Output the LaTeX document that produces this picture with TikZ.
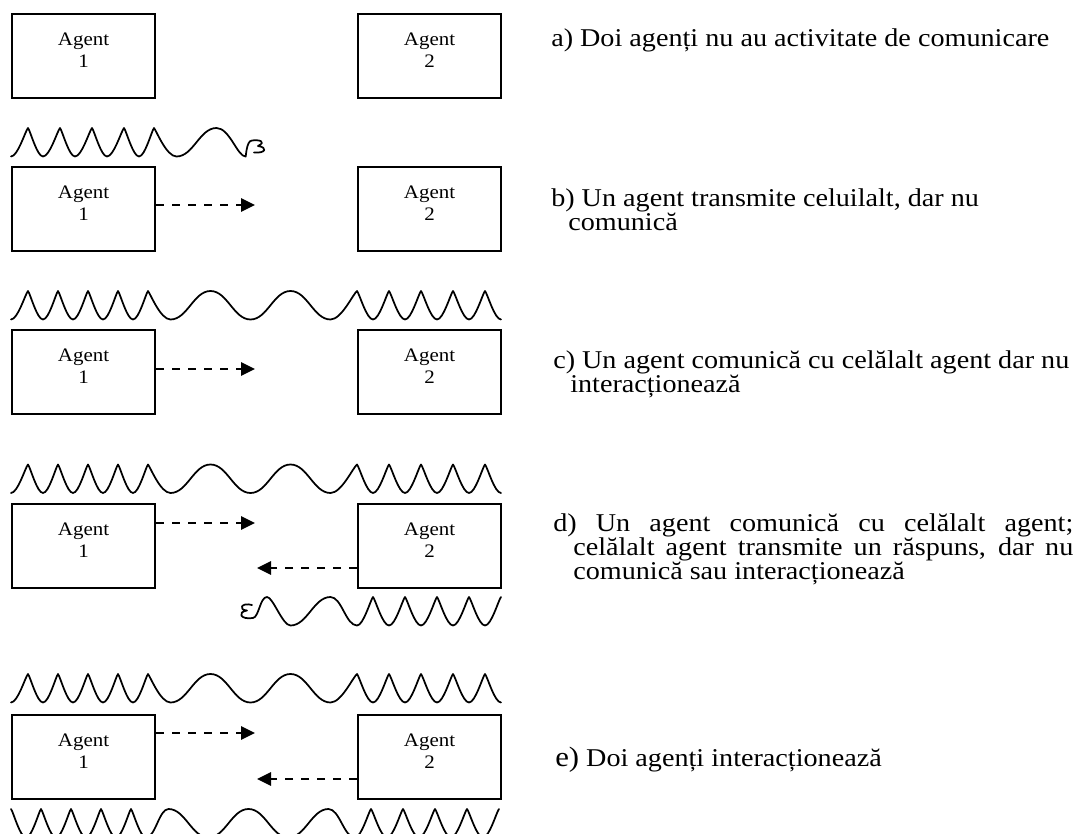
\documentclass[tikz,border=0pt]{standalone}
\usepackage{fontspec}
\setmainfont{Liberation Serif}[FakeStretch=1.1]
\usetikzlibrary{arrows.meta}
\tikzset{
  agentbox/.style={draw, line width=1.3pt, minimum width=107.5pt, minimum height=63pt, anchor=north west, inner sep=0pt},
  boxtext/.style={align=center, font=\fontsize{14.3}{16.5}\selectfont, inner sep=0pt},
  wave/.style={line width=1.3pt, line join=round, line cap=round},
  msg/.style={line width=1.2pt, dash pattern=on 6.3pt off 5.7pt, -{Triangle[length=10.5pt,width=10pt]}},
  desc/.style={anchor=base west, inner sep=0pt, font=\fontsize{19.2}{18}\selectfont}
}
% wave pieces (image pixels, y downward, wave height 28.5)
\newcommand\wvNup[1]{.. controls +(0.4*#1,0) and +(-0.16*#1,3) .. ++(#1,-28.5)}
\newcommand\wvNdn[1]{.. controls +(0.16*#1,3) and +(-0.4*#1,0) .. ++(#1,28.5)}
\newcommand\wvWup[1]{.. controls +(0.42*#1,0) and +(-0.42*#1,0) .. ++(#1,-28.5)}
\newcommand\wvWdn[1]{.. controls +(0.42*#1,0) and +(-0.42*#1,0) .. ++(#1,28.5)}
\begin{document}
\begin{tikzpicture}[x=0.75pt,y=-0.75pt]
\path[use as bounding box] (0,0) rectangle (1085,834);
\clip (0,0) rectangle (1085,834);

% ---------- boxes ----------
\foreach \r/\y in {a/13,b/166,c/329,d/503,e/714}{
  \node[agentbox] (\r1) at (11,\y) {};
  \node[boxtext] (\r1t) at ([yshift=4.5pt]\r1.center) {Agent\\1};
  \node[agentbox] (\r2) at (357,\y) {};
  \node[boxtext] (\r2t) at ([yshift=4.5pt]\r2.center) {Agent\\2};
}

% ---------- arrows ----------
\coordinate (bt) at (255,205);
\coordinate (ct) at (255,369);
\coordinate (dt) at (255,523);
\coordinate (db) at (257,568);
\coordinate (et) at (255,733);
\coordinate (eb) at (257,779);
\draw[msg] (b1.east |- bt) -- (bt);
\draw[msg] (c1.east |- ct) -- (ct);
\draw[msg] (d1.east |- dt) -- (dt);
\draw[msg] (d2.west |- db) -- (db);
\draw[msg] (e1.east |- et) -- (et);
\draw[msg] (e2.west |- eb) -- (eb);

% ---------- wave b (with curl) ----------
\draw[wave, shift={(0,130.5)}] (11,26)
  \foreach \k in {1,...,4}{ \wvNup{17} \wvNdn{15} }
  \wvNup{15}
  .. controls +(2.5,3) and +(-10,0) .. ++(22.5,28.5)
  \wvWup{40}
  .. controls +(13,0) and +(-8,0) .. ++(29,28.5)
  .. controls (246,28.5) and (246,10) .. (252,10)
  .. controls (259,9) and (267,11) .. (258,15.5)
  .. controls (268,17) and (266,23) .. (254,22);

% ---------- full waves c, d, e ----------
\foreach \t in {293.5,467,676.5}{
\draw[wave, shift={(0,\t)}] (11,26)
  \wvNup{17} \wvNdn{15}
  \foreach \k in {1,...,3}{ \wvNup{15} \wvNdn{15} }
  \wvNup{15}
  .. controls +(2.5,3) and +(-10,0) .. ++(22.5,28.5)
  \wvWup{40} \wvWdn{40} \wvWup{40} \wvWdn{40}
  .. controls +(11,0) and +(-4,3) .. ++(26.5,-28.5)
  \foreach \k in {1,...,4}{ \wvNdn{16} \wvNup{16} }
  \wvNdn{16};
}

% ---------- wave below d (with curl) ----------
\draw[wave, shift={(0,597)}] (252,8)
  .. controls (241,5) and (238,13) .. (247,13.5)
  .. controls (237,15) and (240,23) .. (253,21)
  .. controls (259,20) and (260,0) .. (267,0)
  .. controls +(6,0) and +(-8,0) .. ++(23.5,28.5)
  \wvWup{40}
  \wvWdn{26.5}
  \foreach \k in {1,...,4}{ \wvNup{16} \wvNdn{16} }
  \wvNup{16};

% ---------- wave below e ----------
\draw[wave, shift={(0,807)}] (11,2)
  \foreach \k in {1,...,4}{ \wvNdn{15} \wvNup{15} }
  \wvNdn{15}
  \wvWup{22.5}
  \wvWdn{40} \wvWup{40} \wvWdn{40} \wvWup{40}
  \wvWdn{26.5}
  \foreach \k in {1,...,4}{ \wvNup{16} \wvNdn{16} }
  \wvNup{16};

% ---------- descriptions ----------
\node[desc] (ta) at (551,47) {a) Doi agenți nu au activitate de comunicare};
\node[desc] (tb1) at (551,207) {b) Un agent transmite celuilalt, dar nu};
\node[desc] (tb2) at (568,231) {comunică};
\node[desc] (tc1) at (553,368) {c) Un agent comunică cu celălalt agent dar nu};
\node[desc] (tc2) at (570,392) {interacționează};
\node[desc] (td1) at (553,531) {\makebox[390pt][s]{d) Un agent comunică cu celălalt agent;}};
\node[desc] (td2) at (573,555) {\makebox[375pt][s]{celălalt agent transmite un răspuns, dar nu}};
\node[desc] (td3) at (573,579) {comunică sau interacționează};
\node[desc] (te) at (555,766) {{\fontsize{21}{18}\selectfont e)} Doi agenți interacționează};
\end{tikzpicture}
\end{document}
